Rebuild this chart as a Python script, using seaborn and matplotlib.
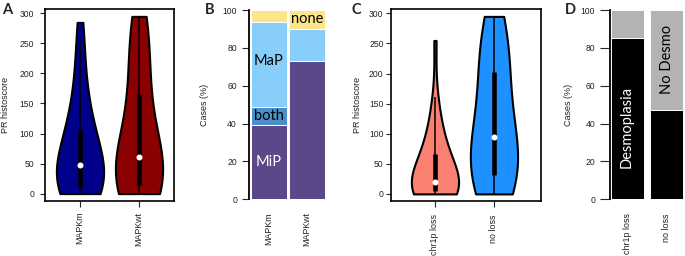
import numpy as np
import pandas as pd
import matplotlib
matplotlib.use("Agg")
import matplotlib.pyplot as plt
import seaborn as sns

##############################################################################
# data
##############################################################################

# A: PR histoscore by MAPK status
mapk_groups = ["MAPKm", "MAPKwt"]
pr_mapkm = [0, 0, 0, 2, 5, 5, 8, 8, 12, 18, 22, 28, 32, 38, 42, 45,
            50, 58, 65, 75, 85, 92, 100, 105, 118, 130, 145, 165, 190, 220,
            250, 285]
pr_mapkwt = [0, 0, 0, 3, 5, 8, 10, 12, 15, 20, 30, 38, 45, 50, 55, 60,
             62, 70, 85, 100, 115, 130, 150, 160, 185, 205, 225, 240, 260,
             275, 285, 295]

# B: pattern (% of cases) by MAPK status
mip = [39.2, 73.2]
both = [9.4, 0.0]
map_ = [45.2, 16.8]
none = [6.2, 10.0]

# C: PR histoscore by chr1p status
chr1p_groups = ["chr1p loss", "no loss"]
pr_chr1p_loss = [0, 0, 0, 0, 0, 0, 0, 2, 5, 8, 10, 12, 14, 15, 17, 18,
                 22, 28, 35, 42, 48, 54, 60, 65, 72, 80, 90, 100, 115, 135,
                 160, 255]
pr_no_loss = [0, 0, 3, 8, 15, 20, 25, 28, 40, 50, 60, 70, 80, 90, 95, 95,
              105, 120, 140, 160, 180, 195, 205, 215, 230, 245, 260, 275,
              285, 295]

# D: desmoplasia (% of cases) by chr1p status
desmo = [85.0, 47.2]
no_desmo = [15.0, 52.8]

##############################################################################
# settings
##############################################################################
sns.set_style("white")
plt.rcParams["font.family"] = ["Liberation Sans", "DejaVu Sans"]

W, H = 685, 256
fig = plt.figure(figsize=(W / 100, H / 100), dpi=100)


def px_axes(left, top, right, bottom):
    # axes from pixel box (origin top left)
    return fig.add_axes([left / W, 1 - bottom / H, (right - left) / W,
                         (bottom - top) / H])


tick_fs = 6.2
lab_fs = 6.5
txt_col = "#222222"
inset_font = ["Lato", "DejaVu Sans"]


def violin_panel(ax, groups, series, colors, xlim, xpad):
    df = pd.DataFrame({
        "group": np.repeat(groups, [len(s) for s in series]),
        "score": np.concatenate(series),
    })
    sns.violinplot(data=df, x="group", y="score", hue="group",
                   palette=colors, saturation=1, cut=0, width=0.8,
                   density_norm="width", bw_adjust=1.3, inner=None,
                   linewidth=1.5, linecolor="black", legend=False, ax=ax)
    # vioplot style box: whiskers, IQR box, white median dot
    for i, vals in enumerate(series):
        vals = np.asarray(vals)
        q1, med, q3 = np.percentile(vals, [25, 50, 75])
        iqr = q3 - q1
        lo = max(vals.min(), q1 - 1.5 * iqr)
        hi = min(vals.max(), q3 + 1.5 * iqr)
        ax.vlines(i, lo, hi, color="black", lw=1.1, zorder=3)
        ax.vlines(i, q1, q3, color="black", lw=3.3, zorder=3)
        ax.plot(i, med, "o", color="white", mec="white", ms=3.3, zorder=4)
    ax.set_xlim(*xlim)
    ax.set_ylim(-11.8, 306.8)
    ax.set_yticks(range(0, 301, 50))
    ax.set_xlabel("")
    ax.set_ylabel("PR histoscore", fontsize=lab_fs, color=txt_col)
    for s in ax.spines.values():
        s.set_visible(True)
        s.set_color("black")
        s.set_linewidth(1.2)
    ax.tick_params(axis="x", labelrotation=90, length=4.5, width=0.8,
                   pad=xpad, labelsize=tick_fs + 0.2, labelcolor=txt_col,
                   bottom=True)
    ax.tick_params(axis="y", length=3.6, width=0.8, labelsize=tick_fs,
                   labelcolor=txt_col, left=True)


def bar_panel(ax, xlim, xpad, ypad, ylen):
    ax.set_xlim(*xlim)
    ax.set_ylim(0, 100)
    ax.set_yticks(range(0, 101, 20))
    ax.set_xlabel("")
    ax.set_ylabel("Cases (%)", fontsize=lab_fs, color=txt_col)
    for side in ["top", "right", "bottom"]:
        ax.spines[side].set_visible(False)
    ax.spines["left"].set_color("black")
    ax.spines["left"].set_linewidth(1.3)
    ax.tick_params(axis="x", labelrotation=90, length=0, pad=xpad,
                   labelsize=tick_fs + 0.2, labelcolor=txt_col)
    ax.tick_params(axis="y", length=ylen, width=0.8, pad=ypad,
                   labelsize=tick_fs, labelcolor=txt_col, left=True)


##############################################################################
# A
axA = px_axes(45, 9.3, 174, 200.7)
violin_panel(axA, mapk_groups, [pr_mapkm, pr_mapkwt],
             ["#00008B", "#8B0000"], (-0.593, 1.593), 3.6)
axA.tick_params(axis="y", pad=4.3)
axA.yaxis.set_label_coords(-0.27, 0.5)

##############################################################################
# B - stacked bars drawn as overlapping cumulative totals
axB = px_axes(249, 10, 326.4, 199.3)
lvl1 = np.array(mip)
lvl2 = lvl1 + np.array(both)
lvl3 = lvl2 + np.array(map_)
lvl4 = lvl3 + np.array(none)
for level, col in [(lvl4, "#FDE68A"), (lvl3, "#87CEFA"),
                   (lvl2, "#4A8FC9"), (lvl1, "#5C4788")]:
    sns.barplot(x=mapk_groups, y=level, color=col, saturation=1, width=0.94,
                edgecolor="white", linewidth=0.7, ax=axB)
bar_panel(axB, (-0.515, 1.5), 9.5, 3.6, 5)
axB.yaxis.set_label_coords(-0.52, 0.5)
axB.text(0, (lvl2[0] + lvl3[0]) / 2 + 2, "MaP", ha="center", va="center",
         fontsize=10.5, family=inset_font, color="black")
axB.text(0, (lvl1[0] + lvl2[0]) / 2, "both", ha="center", va="center",
         fontsize=10.5, family=inset_font, color="black")
axB.text(0, lvl1[0] / 2, "MiP", ha="center", va="center",
         fontsize=10.5, family=inset_font, color="white")
axB.text(1, (lvl3[1] + lvl4[1]) / 2, "none", ha="center", va="center",
         fontsize=10.5, family=inset_font, color="black")

##############################################################################
# C
axC = px_axes(390.7, 9.3, 541, 201)
violin_panel(axC, chr1p_groups, [pr_chr1p_loss, pr_no_loss],
             ["#FA8072", "#1E90FF"], (-0.75, 1.797), 5.0)
axC.tick_params(axis="y", pad=1.5)
axC.yaxis.set_label_coords(-0.193, 0.5)

##############################################################################
# D
axD = px_axes(610, 10, 683.8, 199.3)
total_d = np.array(desmo) + np.array(no_desmo)
sns.barplot(x=chr1p_groups, y=total_d, color="#B3B3B3", saturation=1,
            width=0.83, edgecolor="white", linewidth=0.7, ax=axD)
sns.barplot(x=chr1p_groups, y=desmo, color="black", saturation=1,
            width=0.83, edgecolor="white", linewidth=0.7, ax=axD)
bar_panel(axD, (-0.43, 1.43), 10.0, 3.6, 7)
axD.yaxis.set_label_coords(-0.495, 0.5)
axD.text(0, 38, "Desmoplasia", rotation=90, ha="center", va="center",
         fontsize=10.5, family=inset_font, color="white")
axD.text(1, desmo[1] + no_desmo[1] / 2 + 0.5, "No Desmo", rotation=90,
         ha="center", va="center", fontsize=10.5, family=inset_font,
         color="black")

##############################################################################
# panel letters
for letter, x in [("A", 2), ("B", 205), ("C", 352), ("D", 565)]:
    fig.text(x / W, 1 - 2.5 / H, letter, ha="left", va="top", fontsize=10.5,
             fontweight="bold", family=inset_font)

fig.savefig("out.png", dpi=100)
